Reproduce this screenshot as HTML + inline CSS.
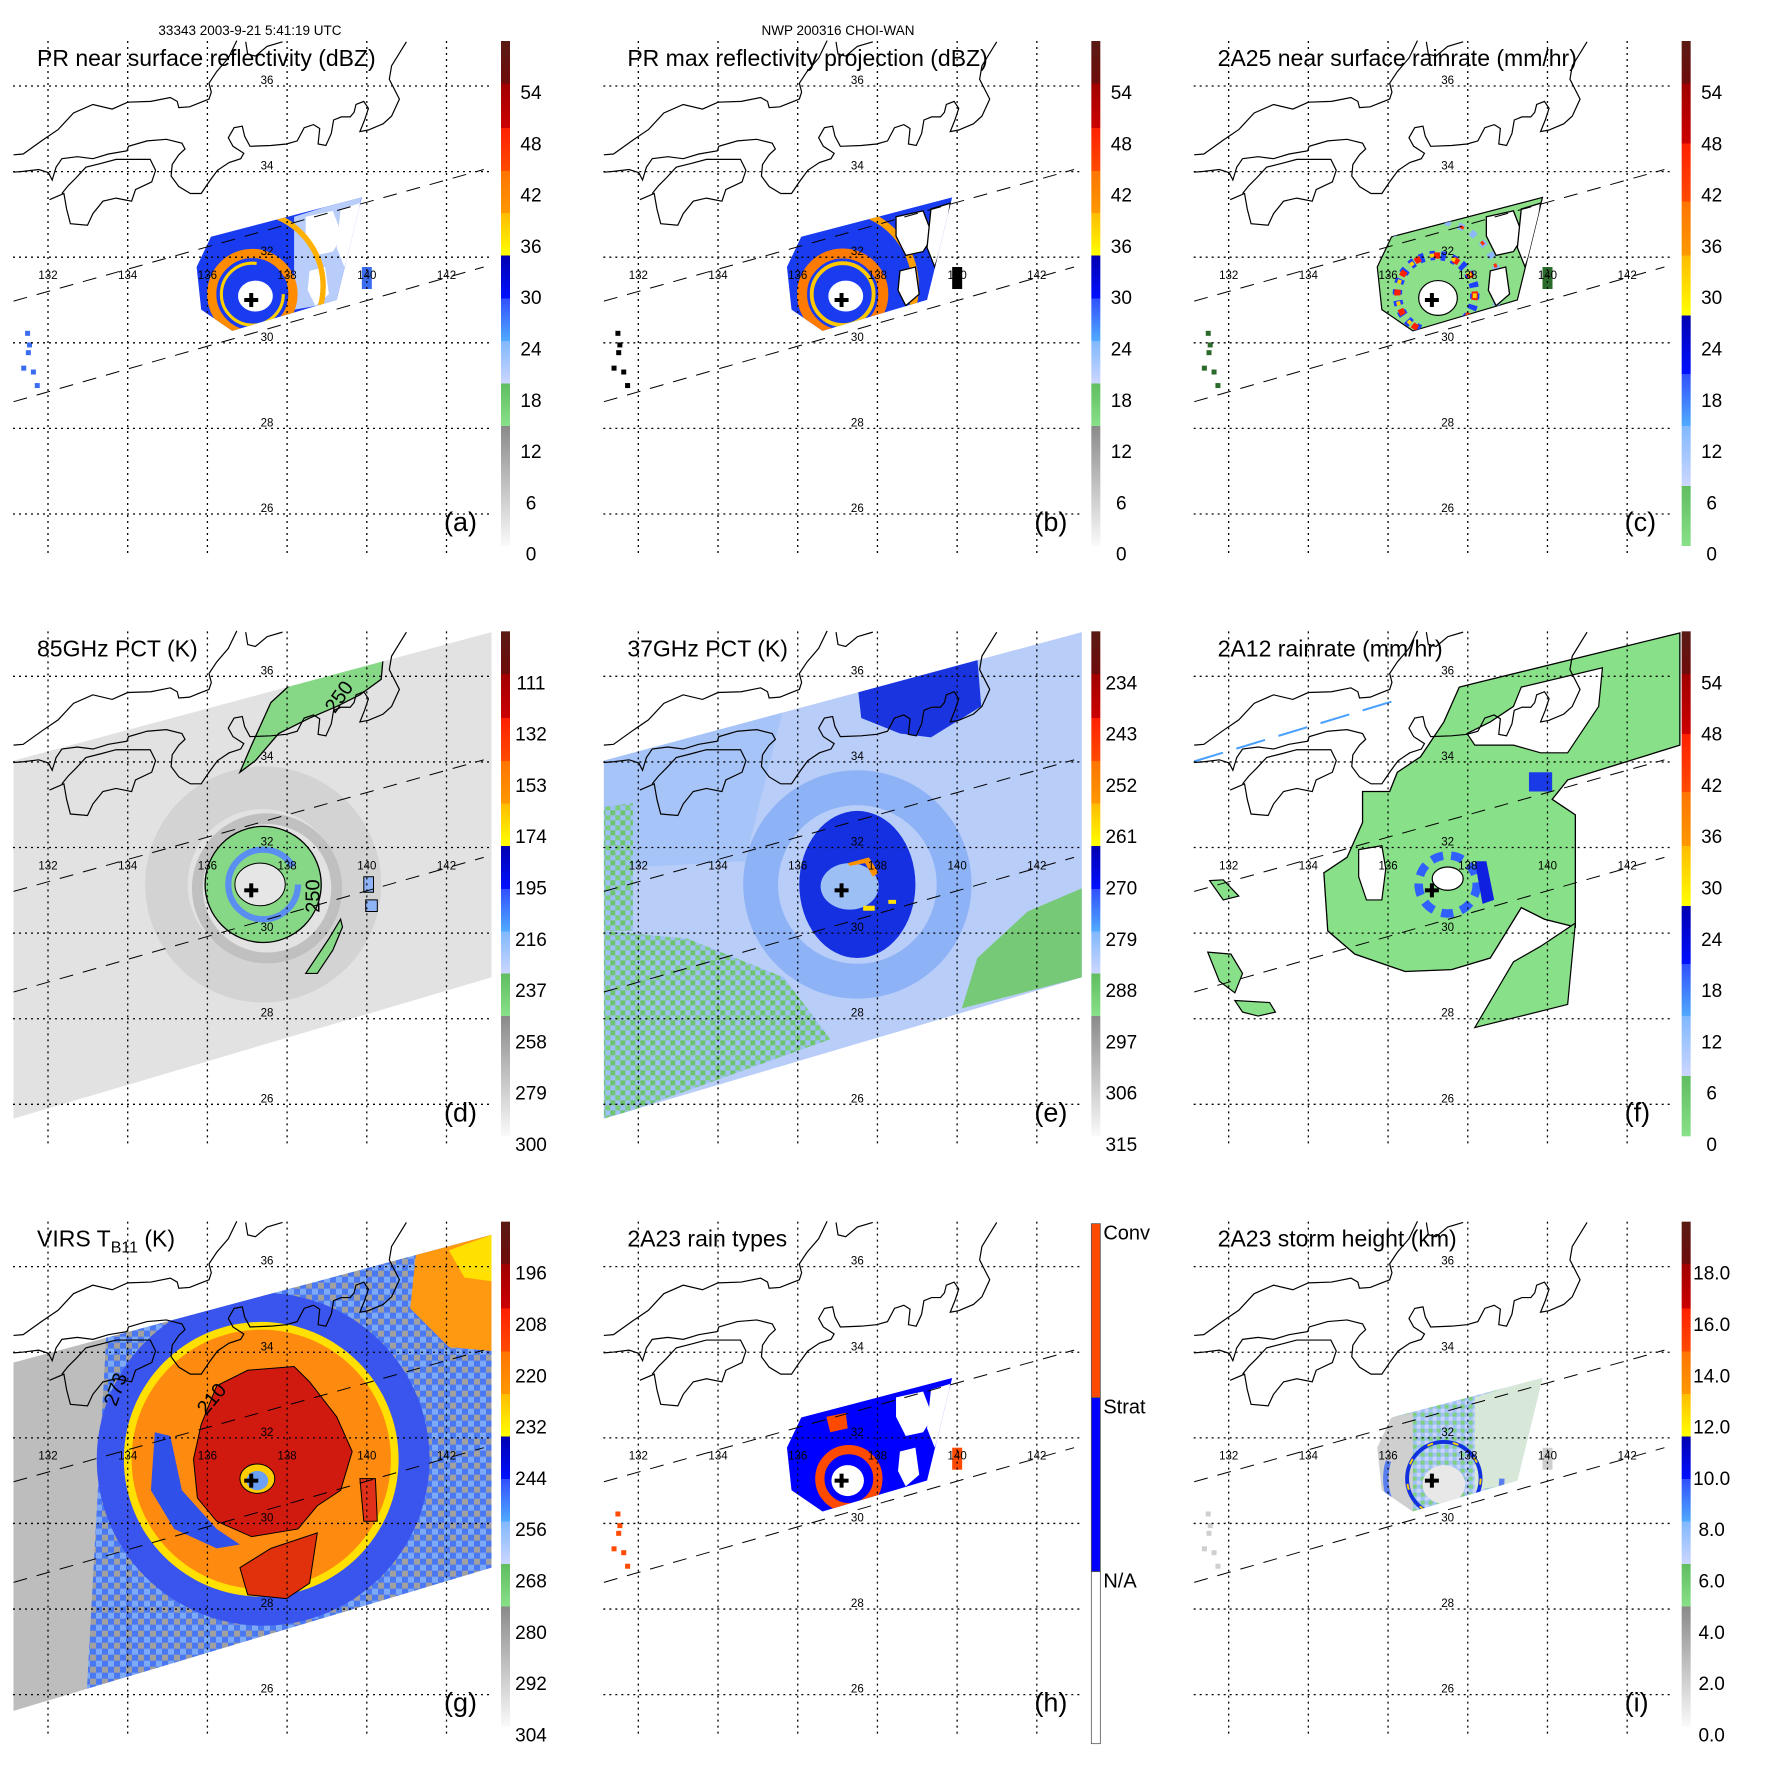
<!DOCTYPE html>
<html><head><meta charset="utf-8"><title>CHOI-WAN TRMM composite</title>
<style>
html,body{margin:0;padding:0;background:#fff;}
svg{display:block;font-family:"Liberation Sans",Arial,sans-serif;}
</style></head>
<body>
<svg id="fig" xmlns="http://www.w3.org/2000/svg" width="1771" height="1771" viewBox="0 0 1771 1771">
<defs>
<linearGradient id="cbA" x1="0" y1="0" x2="0" y2="1">
<stop offset="0" stop-color="#5a1a14"/><stop offset="0.084" stop-color="#6e0c0c"/>
<stop offset="0.084" stop-color="#a00000"/><stop offset="0.172" stop-color="#cc0000"/>
<stop offset="0.172" stop-color="#ff2000"/><stop offset="0.257" stop-color="#ff4a00"/>
<stop offset="0.257" stop-color="#ff7400"/><stop offset="0.341" stop-color="#ff9800"/>
<stop offset="0.341" stop-color="#ffbb00"/><stop offset="0.425" stop-color="#ffff00"/>
<stop offset="0.425" stop-color="#0000b0"/><stop offset="0.51" stop-color="#0010ff"/>
<stop offset="0.51" stop-color="#3050ff"/><stop offset="0.594" stop-color="#50aaff"/>
<stop offset="0.594" stop-color="#80b8ff"/><stop offset="0.678" stop-color="#ccd6ff"/>
<stop offset="0.678" stop-color="#60bd60"/><stop offset="0.762" stop-color="#88e088"/>
<stop offset="0.762" stop-color="#8a8a8a"/><stop offset="1" stop-color="#fafafa"/>
</linearGradient>
<linearGradient id="cbC" x1="0" y1="0" x2="0" y2="1">
<stop offset="0" stop-color="#5a1a14"/><stop offset="0.084" stop-color="#6e0c0c"/>
<stop offset="0.084" stop-color="#a00000"/><stop offset="0.203" stop-color="#cc0000"/>
<stop offset="0.203" stop-color="#ff2000"/><stop offset="0.318" stop-color="#ff4a00"/>
<stop offset="0.318" stop-color="#ff7400"/><stop offset="0.425" stop-color="#ff9800"/>
<stop offset="0.425" stop-color="#ffbb00"/><stop offset="0.544" stop-color="#ffff00"/>
<stop offset="0.544" stop-color="#0000b0"/><stop offset="0.659" stop-color="#0010ff"/>
<stop offset="0.659" stop-color="#3050ff"/><stop offset="0.762" stop-color="#50aaff"/>
<stop offset="0.762" stop-color="#80b8ff"/><stop offset="0.881" stop-color="#ccd6ff"/>
<stop offset="0.881" stop-color="#60bd60"/><stop offset="1" stop-color="#88e088"/>
</linearGradient>
<pattern id="chkE" width="10" height="10" patternUnits="userSpaceOnUse">
<rect width="10" height="10" fill="#9fc0f6"/><rect width="5" height="5" fill="#6cc46c"/><rect x="5" y="5" width="5" height="5" fill="#7acb7a"/>
</pattern>
<pattern id="chkI" width="8" height="8" patternUnits="userSpaceOnUse">
<rect width="8" height="8" fill="#9fc2f6"/><rect width="4" height="4" fill="#80d080"/><rect x="4" y="4" width="4" height="4" fill="#c8d4f8"/>
</pattern>
<pattern id="chkG" width="12" height="12" patternUnits="userSpaceOnUse">
<rect width="12" height="12" fill="#4a78f2"/><rect width="6" height="6" fill="#7eaaf5"/><rect x="6" y="6" width="6" height="6" fill="#a0a0a0"/>
</pattern>
</defs>
<text x="250" y="35" font-size="13.5" text-anchor="middle" fill="#000">33343 2003-9-21 5:41:19 UTC</text>
<text x="838" y="35" font-size="13.5" text-anchor="middle" fill="#000">NWP 200316 CHOI-WAN</text>
</svg>
<script>
// ---- axis data ----
const lonTicks = [132, 134, 136, 138, 140, 142];
const latTicks = [26, 28, 30, 32, 34, 36];
const labelsDbz = ['54','48','42','36','30','24','18','12','6','0'];
const labels85 = ['111','132','153','174','195','216','237','258','279','300'];
const labels37 = ['234','243','252','261','270','279','288','297','306','315'];
const labelsRain = ['54','48','42','36','30','24','18','12','6','0'];
const labelsVirs = ['196','208','220','232','244','256','268','280','292','304'];
const labelsHgt = ['18.0','16.0','14.0','12.0','10.0','8.0','6.0','4.0','2.0','0.0'];
const rainTypes = ['Conv','Strat','N/A'];
const panelIds = ['a','b','c','d','e','f','g','h','i'];
const panelTitles = ['PR near surface reflectivity (dBZ)','PR max reflectivity projection (dBZ)','2A25 near surface rainrate (mm/hr)','85GHz PCT (K)','37GHz PCT (K)','2A12 rainrate (mm/hr)','VIRS','2A23 rain types','2A23 storm height (km)'];
const stormCenter = [137.1, 31.0];

const NS = 'http://www.w3.org/2000/svg';
const svg = document.getElementById('fig');
const PS = 590.33;
const z = 0.387;
function X(lon){ return 48 + (lon - 132) * 39.85; }
function Y(lat){ return 86 + (36 - lat) * 42.8; }
function mk(parent, tag, attrs){
  const el = document.createElementNS(NS, tag);
  for (const k in attrs) el.setAttribute(k, attrs[k]);
  parent.appendChild(el);
  return el;
}
function Z(arr){ let s=''; for(let i=0;i<arr.length;i+=2){ s += (arr[i]*z).toFixed(1)+','+(arr[i+1]*z).toFixed(1)+' '; } return s; }
function poly(g, arr, fill, stroke, sw, name){
  const el = mk(g,'polygon',{points:Z(arr), fill:fill, stroke:stroke||'none', 'stroke-width':sw||0});
  
  
  return el;
}
function circ(g, cx, cy, r, fill, stroke, sw, dash, name, op){
  const el = mk(g,'circle',{cx:cx*z, cy:cy*z, r:r*z, fill:fill, stroke:stroke||'none', 'stroke-width':(sw||0)*z});
  if (dash) el.setAttribute('stroke-dasharray', dash);
  if (op) el.setAttribute('opacity', op);
  
  
  return el;
}
function ell(g, cx, cy, rx, ry, fill, stroke, sw, name){
  const el = mk(g,'ellipse',{cx:cx*z, cy:cy*z, rx:rx*z, ry:ry*z, fill:fill, stroke:stroke||'none', 'stroke-width':sw||0});
  
  
  return el;
}

const coast1 = [35,400,60,398,110,362,150,335,190,292,240,270,290,282,330,264,390,262,440,252,458,262,462,278,490,276,515,266,540,256,546,238,540,215,560,185,590,150,612,105];
const coast2 = [35,445,60,443,100,438,125,446,135,465,145,432,160,410,200,405,240,410,280,398,328,390,332,378,380,364,430,360,470,370,478,385,462,400,445,425,442,455,462,482,492,500,520,500,540,470,562,440,592,420,622,410,630,396,602,378,590,356,605,330,626,326,632,352,646,378,700,376,740,372,768,364,786,330,810,322,826,332,822,372,842,376,856,345,862,310,882,302,905,302,915,290,920,270,940,262,952,280,942,310,930,340,952,336,990,320,1012,300,1032,256,1006,205,1012,170,1050,108];
const coast3 = [128,516,165,500,172,540,182,578,226,582,240,552,266,520,300,512,340,520,350,490,392,470,402,440,388,412,330,412,300,412,262,422,222,432,196,460,176,480,160,500];
const coast4 = [635,108,640,140,660,145,690,120,730,108];
const prBlock = [545,612,935,510,870,775,600,855,520,800,508,690];
const swathBig = [35,440,1270,108,1270,1000,35,1365];
const swathVirs = [35,470,1270,140,1270,1000,35,1370];

function clipFor(g, id, arr){
  const defs = svg.querySelector('defs');
  const cp = mk(defs,'clipPath',{id:id});
  mk(cp,'polygon',{points:Z(arr)});
  const cg = mk(g,'g',{'clip-path':'url(#'+id+')'});
  
  
  return cg;
}
function whiteBlobs(g, outline){
  const st = outline ? '#000' : 'none';
  poly(g,[790,560,860,545,885,610,860,650,815,660,790,610],'#fff',st,outline?1.3:0,'rain-free-patch');
  poly(g,[800,700,840,690,850,760,815,790,795,750],'#fff',st,outline?1.3:0,'rain-free-patch');
  poly(g,[880,540,930,525,920,600,890,690,870,640],'#fff',st,outline?1.3:0,'rain-free-patch');
}
function isolated(g, col){
  const pts = [[70,860],[75,890],[60,950],[85,960],[95,995],[72,910]];
  for (const p of pts){
    const r = mk(g,'rect',{x:p[0]*z-2, y:p[1]*z-2, width:5, height:5, fill:col});
    
    
  }
  const r2 = mk(g,'rect',{x:935*z, y:690*z, width:10, height:22, fill:col});
  
  
}

const drawers = {
  a: function(g){
    poly(g, prBlock, '#1a3cf0', null, 0, 'pr-swath-echo');
    const c = clipFor(g,'clipA',prBlock);
    poly(c,[760,560,935,505,880,780,760,800],'#b8cdfa',null,0,'light-echo-region');
    whiteBlobs(c,false);
    circ(c,640,740,195,'none','#ffb000',14,'200 180','outer-rainband');
    circ(c,652,760,105,'none','#ff8c00',24,'380 280','eyewall-arc');
    circ(c,652,760,80,'none','#ffd000',8,'150 350','eyewall-inner');
    ell(c,660,765,45,40,'#fff',null,0,'eye');
    isolated(g,'#3a6cf0');
  },
  b: function(g){
    poly(g, prBlock, '#1a3cf0', null, 0, 'pr-swath-echo');
    const c = clipFor(g,'clipB',prBlock);
    circ(c,640,740,200,'none','#ffa000',18,'260 130','outer-rainband');
    circ(c,652,760,105,'none','#ff7a00',26,'450 200','eyewall-arc');
    circ(c,652,760,80,'none','#ffc800',10,'200 300','eyewall-inner');
    whiteBlobs(c,true);
    ell(c,660,765,45,40,'#fff',null,0,'eye');
    isolated(g,'#000');
  },
  c: function(g){
    poly(g, prBlock, '#8ddf8a', '#000', 1.2, 'rain-swath');
    const c = clipFor(g,'clipC',prBlock);
    circ(c,652,740,170,'none','#8cb8ff',18,'6 8','outer-band');
    circ(c,652,740,170,'none','#ff3000',8,'4 22','outer-band-heavy');
    circ(c,660,760,100,'none','#2040ff',24,'5 6','eyewall-rain');
    circ(c,660,760,100,'none','#ff2000',16,'6 14','eyewall-heavy');
    circ(c,660,760,100,'none','#ffd000',10,'4 18','eyewall-moderate');
    whiteBlobs(c,true);
    ell(c,665,770,50,45,'#fff','#000',1.2,'eye');
    isolated(g,'#2a6a2a');
  },
  d: function(g){
    poly(g, swathBig, '#e2e2e2', null, 0, 'pct85-swath');
    const c = clipFor(g,'clipD',swathBig);
    circ(c,680,760,250,'none','#d2d2d2',110,null,'scattering-ring',0.9);
    circ(c,690,770,180,'none','#bdbdbd',28,null,'inner-scattering-ring',0.9);
    poly(c,[620,470,650,400,700,290,760,235,990,175,985,230,930,270,870,300,800,330,720,370,660,440],'#86d886','#000',1.3,'northern-rainband');
    ell(c,680,760,150,150,'#86d886','#000',1.3,'eyewall-region');
    circ(c,680,760,90,'none','#5a8ef0',16,'200 400','ice-scattering-arc');
    ell(c,672,760,65,55,'#e6e6e6','#000',1,'eye');
    poly(c,[790,990,850,900,880,850,885,870,860,930,820,990],'#86d886','#000',1.2,'spiral-band');
    poly(c,[940,740,965,740,965,780,940,780],'#8fb4f5','#000',1,'cell');
    poly(c,[945,800,975,800,975,830,945,830],'#8fb4f5','#000',1,'cell');
    const t1 = mk(g,'text',{x:825*z, y:790*z, 'font-size':20, transform:'rotate(-90 '+(825*z)+' '+(790*z)+')', 'text-anchor':'middle'});
    
    
    t1.textContent='250';
    const t2 = mk(g,'text',{x:890*z, y:285*z, 'font-size':20, transform:'rotate(-55 '+(890*z)+' '+(285*z)+')', 'text-anchor':'middle'});
    
    
    t2.textContent='250';
  },
  e: function(g){
    poly(g, swathBig, '#b9cdf9', null, 0, 'pct37-swath');
    const c = clipFor(g,'clipE',swathBig);
    poly(c,[35,440,500,300,400,700,35,720],'#a6c4f8',null,0,'mid-region');
    circ(c,690,760,250,'none','#7aa6f4',90,null,'rain-ring',0.7);
    poly(c,[35,880,250,900,500,1000,620,1160,35,1370],'url(#chkE)',null,0,'green-speckle-region');
    poly(c,[35,560,110,550,110,880,35,880],'url(#chkE)',null,0,'green-speckle-region');
    poly(c,[960,1080,1000,950,1130,830,1270,770,1270,1000],'#76c976',null,0,'warm-region');
    poly(c,[690,240,1000,175,1010,300,880,380,800,370,700,330],'#1a35e0',null,0,'northern-heavy-rain');
    ell(c,690,760,150,190,'#1530e0',null,0,'core-heavy-rain');
    ell(c,670,765,75,60,'#9cc0f5',null,0,'eye-region');
    poly(c,[665,705,720,690,745,730,730,740,710,705,670,712],'#ff9000',null,0,'ice-arc');
    poly(c,[705,815,735,815,735,828,705,828],'#ffe000',null,0,'ice-cell');
    poly(c,[770,800,790,800,790,810,770,810],'#ffe000',null,0,'ice-cell');
  },
  f: function(g){
    const area = [470,520,540,520,560,470,620,430,680,340,720,250,760,240,1290,110,1290,400,1000,490,960,540,1020,580,1020,700,1020,870,940,850,880,820,800,950,700,980,580,985,450,940,380,880,370,730,430,690,470,600];
    poly(g, area, '#88e088', '#000', 1.3, 'rain-area');
    poly(g,[460,670,520,660,530,720,520,800,480,800,460,740],'#fff','#000',1.2,'rain-free-patch');
    poly(g,[880,250,1090,200,1080,300,1000,420,930,420,860,400,760,400,740,370,800,340,860,300],'#fff','#000',1.2,'land-gap');
    poly(g,[760,1130,860,960,930,920,1020,860,1000,1070],'#88e088','#000',1.2,'spiral-band');
    poly(g,[70,935,130,940,160,990,140,1040,100,1010],'#88e088','#000',1.2,'isolated-rain');
    poly(g,[140,1060,230,1065,245,1090,200,1100,160,1090],'#88e088','#000',1.2,'isolated-rain');
    poly(g,[75,750,110,748,150,790,110,800],'#88e088','#000',1.2,'isolated-rain');
    circ(g,690,760,75,'none','#3060ff',22,'12 8','eyewall-rain');
    poly(g,[760,700,790,700,810,800,780,810],'#1020e0',null,0,'heavy-rain-band');
    poly(g,[900,470,960,470,960,520,900,520],'#1a3ae8',null,0,'heavy-rain-cell');
    ell(g,690,745,40,30,'#fff','#000',1.2,'eye');
    const ln = mk(g,'line',{x1:35*z,y1:442*z,x2:570*z,y2:280*z,stroke:'#4aa0ff','stroke-width':2,'stroke-dasharray':'30 14'});
    
    
  },
  g: function(g){
    poly(g, swathVirs, '#bdbdbd', null, 0, 'virs-swath');
    const c = clipFor(g,'clipG',swathVirs);
    poly(c,[280,300,1270,100,1270,1400,220,1400],'url(#chkG)',null,0,'cloud-edge');
    circ(c,680,720,430,'#3a55ee',null,0,null,'cold-cloud-band');
    poly(c,[1080,140,1270,100,1270,440,1160,430,1060,330],'#ff9a10',null,0,'ne-cirrus');
    poly(c,[1160,180,1270,140,1270,260,1200,250],'#ffe000',null,0,'ne-cirrus-edge');
    circ(c,675,720,355,'#ffe000',null,0,null,'cirrus-yellow');
    circ(c,675,720,335,'#ff8a10',null,0,null,'cirrus-orange');
    poly(c,[520,630,560,530,640,490,760,480,800,520,870,610,910,700,880,800,820,840,770,900,650,920,560,880,510,820,500,720],'#d01a10','#000',1,'cold-core');
    poly(c,[620,1000,700,950,820,910,800,1040,740,1080,640,1070],'#e0300c','#000',1,'cold-cloud-south');
    poly(c,[400,650,440,660,470,800,560,900,620,940,560,950,450,900,390,800],'#3050ea',null,0,'dry-slot');
    poly(c,[930,770,970,770,975,880,940,880],'#e0301a','#000',1,'cold-cell');
    ell(c,665,770,45,38,'#ffcc00','#000',1,'eye-ring');
    ell(c,665,775,28,25,'#6aa0f5',null,0,'eye');
    const t = mk(g,'text',{x:560*z, y:575*z, 'font-size':20, transform:'rotate(-50 '+(560*z)+' '+(575*z)+')', 'text-anchor':'middle'});
    
    
    t.textContent='210';
    const t2 = mk(g,'text',{x:315*z, y:545*z, 'font-size':20, transform:'rotate(-70 '+(315*z)+' '+(545*z)+')', 'text-anchor':'middle'});
    
    
    t2.textContent='273';
  },
  h: function(g){
    poly(g, prBlock, '#0000ff', null, 0, 'stratiform-area');
    const c = clipFor(g,'clipH',prBlock);
    whiteBlobs(c,false);
    circ(c,668,770,75,'none','#ff4a00',24,null,'convective-eyewall');
    ell(c,665,775,42,40,'#fff',null,0,'eye');
    poly(c,[610,610,660,600,665,640,620,650],'#ff4a00',null,0,'convective-cell');
    poly(c,[930,690,960,690,965,770,935,770],'#ff4a00',null,0,'convective-cell');
    isolated(g,'#ff4a00');
  },
  i: function(g){
    poly(g, prBlock, 'url(#chkI)', null, 0, 'storm-height-area');
    const c = clipFor(g,'clipI',prBlock);
    poly(c,[508,690,545,612,600,600,600,860,520,800],'#cfcfcf',null,0,'shallow-echo');
    poly(c,[760,560,935,505,880,780,760,800],'#d8e8d8',null,0,'light-echo');
    circ(c,680,770,150,'none','#5a80f0',14,'200 300','deep-band');
    circ(c,680,770,95,'none','#1030e0',10,'330 280','eyewall-deep');
    circ(c,680,770,95,'none','#ffd000',5,'6 20','eyewall-highest');
    ell(c,680,785,55,50,'#e8e8e8',null,0,'eye');
    isolated(g,'#cfcfcf');
  }
};

for (let p = 0; p < 9; p++){
  const col = p % 3, row = Math.floor(p / 3);
  const id = panelIds[p];
  const g = mk(svg,'g',{transform:'translate('+(col*PS).toFixed(2)+','+(row*PS).toFixed(2)+')'});
  
  

  drawers[id](g);

  for (const seg of [[35,778,1250,438],[35,1038,1250,690]]){
    const l = mk(g,'line',{x1:seg[0]*z,y1:seg[1]*z,x2:seg[2]*z,y2:seg[3]*z,stroke:'#000','stroke-width':1,'stroke-dasharray':'14 10'});
    
    
  }
  for (const cl of [coast1, coast2, coast3, coast4]){
    const pl = mk(g,'polyline',{points:Z(cl), fill:'none', stroke:'#000','stroke-width':1.2});
    
    
  }
  for (const lon of lonTicks){
    const l = mk(g,'line',{x1:X(lon),y1:41,x2:X(lon),y2:555,stroke:'#000','stroke-width':1.3,'stroke-dasharray':'2 4'});
    
    
    const t = mk(g,'text',{x:X(lon), y:279, 'font-size':11.5, 'text-anchor':'middle'});
    
    
    t.textContent = lon;
  }
  for (const lat of latTicks){
    const l = mk(g,'line',{x1:13,y1:Y(lat),x2:492,y2:Y(lat),stroke:'#000','stroke-width':1.3,'stroke-dasharray':'2 4'});
    
    
    const t = mk(g,'text',{x:267, y:Y(lat)-2, 'font-size':11.5, 'text-anchor':'middle'});
    
    
    t.textContent = lat;
  }
  const cx = X(stormCenter[0]), cy = Y(stormCenter[1]);
  const cr1 = mk(g,'rect',{x:cx-7, y:cy-2, width:14, height:4, fill:'#000'});
  
  
  const cr2 = mk(g,'rect',{x:cx-2, y:cy-7, width:4, height:14, fill:'#000'});
  
  

  const tt = mk(g,'text',{x:37, y:66, 'font-size':23});
  
  
  if (id === 'g'){
    tt.textContent = 'VIRS T';
    const sub = mk(tt,'tspan',{'font-size':16, dy:6});
    
    
    sub.textContent = 'B11';
    const rest = mk(tt,'tspan',{dy:-6});
    
    
    rest.textContent = ' (K)';
  } else {
    tt.textContent = panelTitles[p];
  }
  const pl = mk(g,'text',{x:444, y:531, 'font-size':27});
  
  
  pl.textContent = '(' + id + ')';

  if (id === 'h'){
    const segs = [['#ff4a00',43,217],['#0000ff',217,391],['#ffffff',391,563]];
    for (let k = 0; k < 3; k++){
      const r = mk(g,'rect',{x:501, y:segs[k][1], width:9, height:segs[k][2]-segs[k][1], fill:segs[k][0], stroke:'#555','stroke-width':0.8});
      
      
      const t = mk(g,'text',{x:513, y:segs[k][1]+16, 'font-size':20});
      
      
      t.textContent = rainTypes[k];
    }
  } else {
    const grad = (id === 'c' || id === 'f') ? 'cbC' : 'cbA';
    const r = mk(g,'rect',{x:501, y:41, width:9, height:505, fill:'url(#'+grad+')'});
    
    
    const labs = {a:labelsDbz,b:labelsDbz,c:labelsRain,d:labels85,e:labels37,f:labelsRain,g:labelsVirs,i:labelsHgt}[id];
    for (let k = 0; k < labs.length; k++){
      const t = mk(g,'text',{x:531, y:94 + k*51.3 + 5, 'font-size':19, 'text-anchor':'middle'});
      
      
      t.textContent = labs[k];
    }
  }
}
</script>
</body></html>
